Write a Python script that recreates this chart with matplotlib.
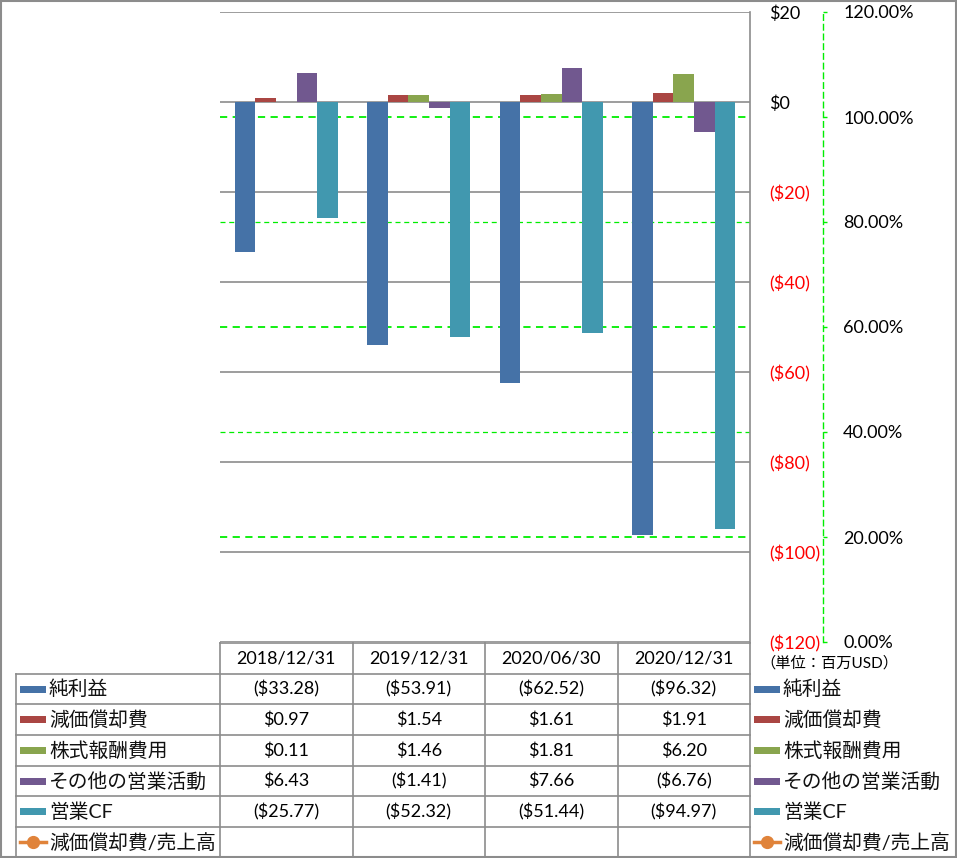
import matplotlib
matplotlib.use("Agg")
import matplotlib.pyplot as plt
import numpy as np
from matplotlib.patches import Rectangle
from matplotlib.lines import Line2D
from matplotlib.transforms import blended_transform_factory

plt.rcParams["font.family"] = ["Lato", "Noto Sans CJK JP", "DejaVu Sans"]

W, H = 957, 858

# --- data (million USD) ---
periods = ["2018/12/31", "2019/12/31", "2020/06/30", "2020/12/31"]
series = ["純利益", "減価償却費", "株式報酬費用", "その他の営業活動", "営業CF"]
net_income = [-33.28, -53.91, -62.52, -96.32]
depreciation = [0.97, 1.54, 1.61, 1.91]
stock_comp = [0.11, 1.46, 1.81, 6.20]
other_ops = [6.43, -1.41, 7.66, -6.76]
operating_cf = [-25.77, -52.32, -51.44, -94.97]
dep_to_sales = [np.nan, np.nan, np.nan, np.nan]  # no values shown
ratio_label = "減価償却費/売上高"
unit_label = "（単位：百万USD）"

values = [net_income, depreciation, stock_comp, other_ops, operating_cf]
colors = ["#4572A7", "#AA4643", "#89A54E", "#71588F", "#4198AF"]
ORANGE = "#E0833A"
GRID = "#8c8c8c"
GREEN = "#00ee00"

fig = plt.figure(figsize=(W / 100, H / 100), dpi=100)


def px_rect(x0, y0, x1, y1):
    return [x0 / W, 1 - y1 / H, (x1 - x0) / W, (y1 - y0) / H]


ax = fig.add_axes(px_rect(220, 12, 750, 642))
ax2 = ax.twinx()

n = len(series)
w = 0.155
x = np.arange(len(periods))
for i, (vals, c) in enumerate(zip(values, colors)):
    ax.bar(x + (i - (n - 1) / 2) * w, vals, w, color=c, zorder=3, linewidth=0)

yt = np.arange(-120, 21, 20)
ax.set_xlim(-0.5, len(periods) - 0.5)
ax.set_ylim(-120, 20)
ax.set_yticks(yt)
ax.set_yticklabels([f"${v:.0f}" if v >= 0 else f"(${-v:.0f})" for v in yt])
ax.yaxis.tick_right()
ax.tick_params(axis="y", length=0, pad=13.7, labelsize=13)
for tick, v in zip(ax.yaxis.get_major_ticks(), yt):
    tick.label2.set_color("red" if v < 0 else "black")
ax.set_xticks([])
for s in ("top", "left", "bottom"):
    ax.spines[s].set_visible(False)
ax.spines["right"].set_color(GRID)
ax.spines["right"].set_linewidth(1.2)
ax.yaxis.grid(True, color=GRID, lw=1.2)
ax.set_axisbelow(True)

# secondary percent axis
ax2.plot(x, dep_to_sales, color=ORANGE, marker="o", lw=2.5)
ax2.set_ylim(0, 1.2)
pct_ticks = np.arange(0, 1.21, 0.2)
ax2.set_yticks(pct_ticks)
ax2.set_yticklabels([f"{p * 100:.2f}%" for p in pct_ticks])
ax2.tick_params(axis="y", length=2.9, width=1, color=GREEN, pad=11.5, labelsize=13)
for s in ("top", "left", "bottom"):
    ax2.spines[s].set_visible(False)
ax2.spines["right"].set_position(("outward", 52.6))
ax2.spines["right"].set_color(GREEN)
ax2.spines["right"].set_linestyle((0, (4, 3)))
ax2.spines["right"].set_linewidth(1)

# percent gridlines behind bars
tr = blended_transform_factory(ax.transAxes, ax2.transData)
for k, p in enumerate(pct_ticks[1:-1]):
    major = k % 2 == 0
    ax.plot([0, 1], [p, p], transform=tr, color=GREEN, ls=(0, (4, 3)),
            lw=1.3 if major else 0.9, zorder=1.5)

# --- overlay for data table and legend ---
ov = fig.add_axes([0, 0, 1, 1], zorder=-1)
ov.set_xlim(0, W)
ov.set_ylim(H, 0)
ov.axis("off")


def hline(y, x0, x1):
    ov.add_line(Line2D([x0, x1], [y, y], color=GRID, lw=1.2))


def vline(x0, y0, y1):
    ov.add_line(Line2D([x0, x0], [y0, y1], color=GRID, lw=1.2))


col_edges = [220 + 132.5 * i for i in range(len(periods) + 1)]
row_edges = [674, 704, 735, 766, 796, 827, 857]
hline(643, col_edges[0], col_edges[-1])
for y in row_edges[:-1]:
    hline(y, 16, col_edges[-1])
for xe in col_edges:
    vline(xe, 643, 857)
vline(16, 674, 857)

for i, p in enumerate(periods):
    ov.text((col_edges[i] + col_edges[i + 1]) / 2, 659, p, ha="center", va="center", fontsize=13)


def fmt(v):
    return f"${v:.2f}" if v >= 0 else f"(${-v:.2f})"


labels = series + [ratio_label]
for r, lab in enumerate(labels):
    yc = (row_edges[r] + row_edges[r + 1]) / 2
    if r < n:
        for i, v in enumerate(values[r]):
            ov.text((col_edges[i] + col_edges[i + 1]) / 2, yc, fmt(v), ha="center", va="center", fontsize=13)
    for kx in (20, 754):
        if r < n:
            ov.add_patch(Rectangle((kx, yc - 3.5), 26, 7, color=colors[r], lw=0))
        else:
            ov.add_line(Line2D([kx, kx + 26], [yc, yc], color=ORANGE, lw=2.5))
            ov.plot(kx + 13, yc, "o", color=ORANGE, ms=8.5)
        ov.text(kx + 29, yc, lab, ha="left", va="center", fontsize=14.2, color="#111111")

ov.text(760, 663, unit_label, ha="left", va="center", fontsize=11)

# outer border
ov.add_patch(Rectangle((0.5, 0.5), W - 1.5, H - 1.5, fill=False, ec=GRID, lw=1.5))

fig.savefig("out.png", dpi=100)
